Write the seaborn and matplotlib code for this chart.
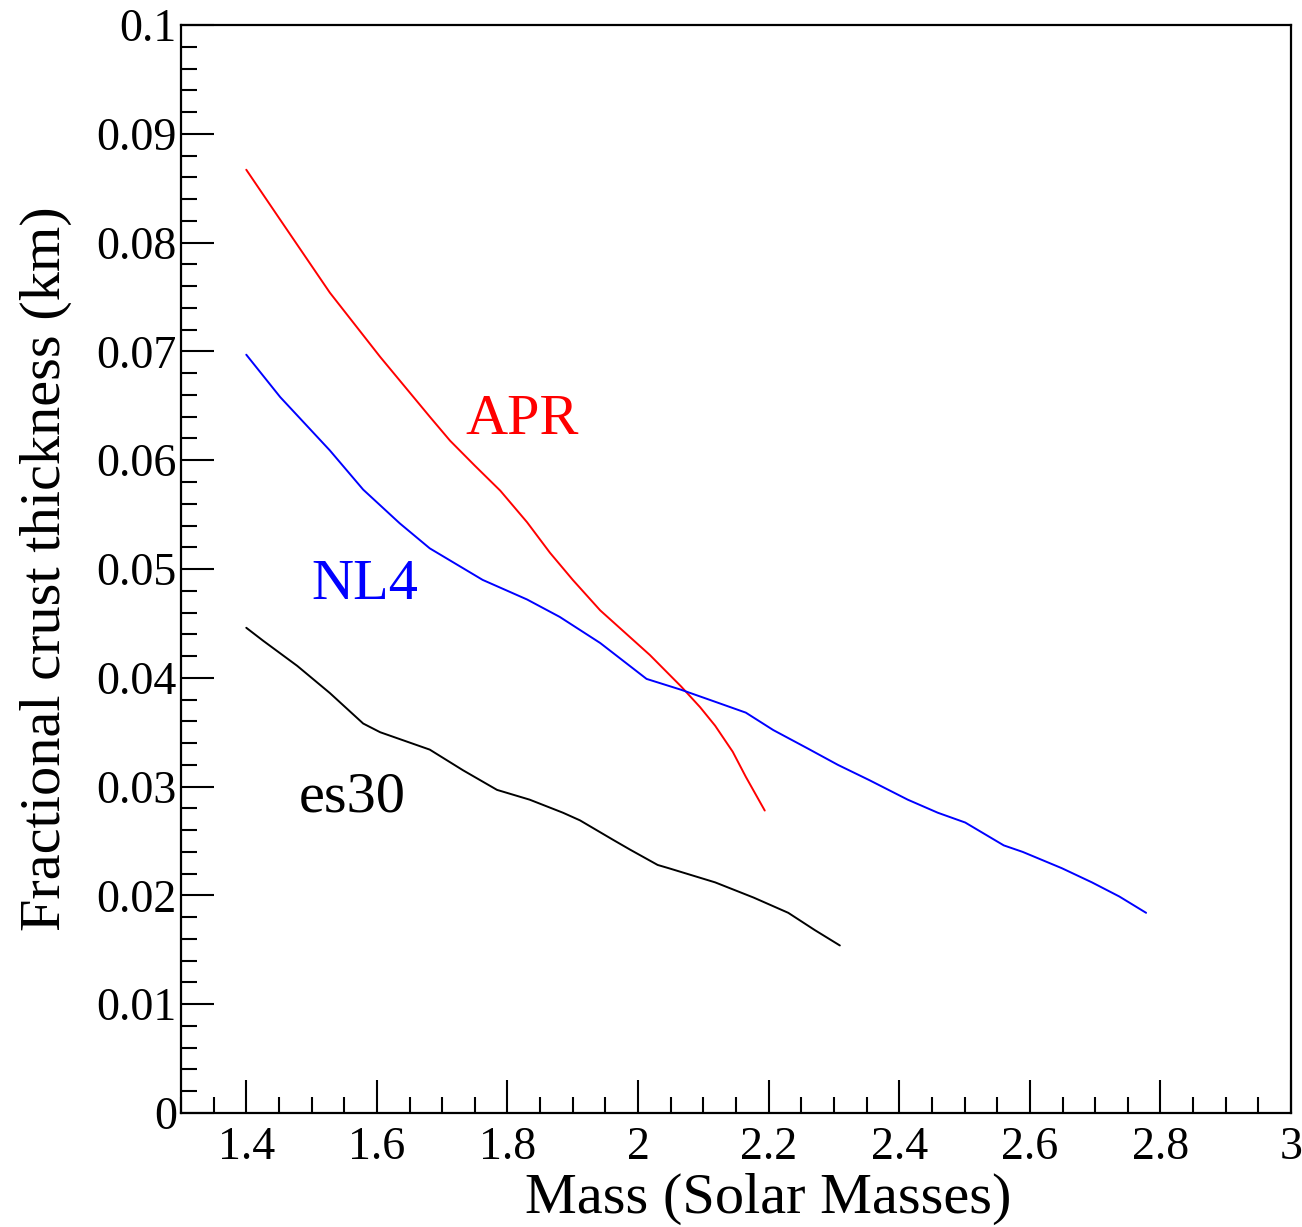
"""Fractional crust thickness vs. neutron star mass for three EOS."""
import matplotlib
matplotlib.use("Agg")
import matplotlib.pyplot as plt
from matplotlib.ticker import MultipleLocator
import pandas as pd
import seaborn as sns

# APR
apr_mass = [1.400, 1.452, 1.528, 1.605, 1.681, 1.712, 1.750, 1.789, 1.830,
            1.865, 1.900, 1.942, 2.018, 2.066, 2.095, 2.118, 2.145, 2.165,
            2.194]
apr_thick = [0.0867, 0.0821, 0.0754, 0.0695, 0.0640, 0.0618, 0.0595, 0.0572,
             0.0543, 0.0515, 0.0490, 0.0462, 0.0421, 0.0392, 0.0373, 0.0356,
             0.0332, 0.0309, 0.0278]

# NL4
nl4_mass = [1.400, 1.452, 1.528, 1.579, 1.635, 1.681, 1.762, 1.830, 1.880,
            1.942, 2.013, 2.066, 2.118, 2.165, 2.207, 2.260, 2.306, 2.354,
            2.413, 2.459, 2.501, 2.560, 2.589, 2.649, 2.695, 2.737, 2.778]
nl4_thick = [0.0697, 0.0658, 0.0609, 0.0573, 0.0542, 0.0519, 0.0490, 0.0472,
             0.0456, 0.0432, 0.0399, 0.0389, 0.0378, 0.0368, 0.0352, 0.0335,
             0.0320, 0.0306, 0.0288, 0.0276, 0.0267, 0.0246, 0.0240, 0.0225,
             0.0212, 0.0199, 0.0184]

# es30
es30_mass = [1.400, 1.426, 1.478, 1.528, 1.579, 1.605, 1.681, 1.732,
             1.784, 1.834, 1.885, 1.911, 1.962, 1.988, 2.030, 2.047, 2.118,
             2.177, 2.230, 2.271, 2.309]
es30_thick = [0.0446, 0.0434, 0.0411, 0.0386, 0.0358, 0.0350, 0.0334,
              0.0315, 0.0297, 0.0288, 0.0276, 0.0269, 0.0251, 0.0242, 0.0228,
              0.0225, 0.0212, 0.0198, 0.0184, 0.0168, 0.0154]

eos_names = ["APR", "NL4", "es30"]
eos_colors = {"APR": "#ff0000", "NL4": "#0000ff", "es30": "#000000"}
label_pos = {"APR": (1.822, 0.0637), "NL4": (1.582, 0.0485), "es30": (1.562, 0.0290)}

df = pd.concat([
    pd.DataFrame({"mass": apr_mass, "thick": apr_thick, "eos": "APR"}),
    pd.DataFrame({"mass": nl4_mass, "thick": nl4_thick, "eos": "NL4"}),
    pd.DataFrame({"mass": es30_mass, "thick": es30_thick, "eos": "es30"}),
], ignore_index=True)

sns.set_style("ticks")
plt.rcParams["font.family"] = ["Liberation Serif", "DejaVu Serif"]
plt.rcParams["axes.labelcolor"] = "black"

fig = plt.figure(figsize=(13.02, 12.27), dpi=100)
ax = fig.add_axes([0.139, 0.0929, 0.8526, 0.8867])

sns.lineplot(data=df, x="mass", y="thick", hue="eos", hue_order=eos_names,
             palette=eos_colors, estimator=None, sort=False, linewidth=1.4,
             legend=False, ax=ax)

for name in eos_names:
    x, y = label_pos[name]
    ax.text(x, y, name, color=eos_colors[name], fontsize=42,
            ha="center", va="center")

ax.set_xlim(1.3, 3.0)
ax.set_ylim(0, 0.1)
ax.xaxis.set_minor_locator(MultipleLocator(0.05))
ax.yaxis.set_minor_locator(MultipleLocator(0.002))
ax.set_xticks([1.4, 1.6, 1.8, 2.0, 2.2, 2.4, 2.6, 2.8, 3.0])
ax.set_xticklabels(["1.4", "1.6", "1.8", "2", "2.2", "2.4", "2.6", "2.8", "3"])
ax.set_yticks([0, 0.01, 0.02, 0.03, 0.04, 0.05, 0.06, 0.07, 0.08, 0.09, 0.1])
ax.set_yticklabels(["0", "0.01", "0.02", "0.03", "0.04", "0.05", "0.06",
                    "0.07", "0.08", "0.09", "0.1"])

ax.tick_params(which="both", direction="in", top=False, right=False,
               labelsize=33, colors="black", width=1.5)
ax.tick_params(axis="x", which="major", length=24, pad=10)
ax.tick_params(axis="y", which="major", length=24, pad=3)
ax.tick_params(which="minor", length=11.5)

for side in ["left", "bottom", "top", "right"]:
    ax.spines[side].set_visible(True)
    ax.spines[side].set_color("black")
    ax.spines[side].set_linewidth(1.6)

ax.set_xlabel("Mass (Solar Masses)", fontsize=42)
ax.xaxis.set_label_coords(0.529, -0.055)
ax.set_ylabel("Fractional crust thickness (km)", fontsize=42)
ax.yaxis.set_label_coords(-0.098, 0.5)

fig.savefig("out.png", dpi=100, facecolor="white")
